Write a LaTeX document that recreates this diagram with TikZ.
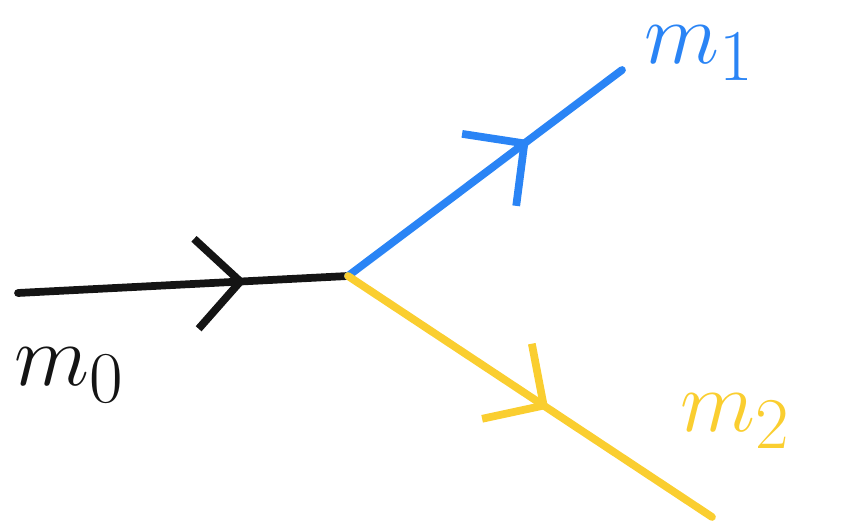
\documentclass[tikz,border=0pt]{standalone}
\usetikzlibrary{arrows.meta, decorations.markings}

\definecolor{inblack}{RGB}{20,20,20}
\definecolor{outblue}{RGB}{42,132,245}
\definecolor{outyellow}{RGB}{250,206,48}

\begin{document}
\begin{tikzpicture}[
  x=0.01cm, y=-0.01cm,
  leg/.style      = {line width=2.2pt, line cap=round, line join=round},
  mid arrow/.style = {postaction={decorate}, decoration={markings,
      mark=at position #1 with {\arrow{Straight Barb[length=4.4mm,width=9mm,line width=2.2pt]}}}},
  mass/.style     = {anchor=base west, inner sep=0pt, font=\fontsize{30}{36}\selectfont},
]
\useasboundingbox (0,0) rectangle (857,528);

% =============================================================
% Vertex and free ends of the three legs
% =============================================================
\coordinate (vertex)  at (348,276);
\coordinate (in end)  at (18,293);
\coordinate (out one) at (622,70);
\coordinate (out two) at (712,517);

% =============================================================
% Legs with arrows in the middle
% =============================================================
\draw[leg, inblack,   mid arrow=0.69] (in end) -- (vertex);
\draw[leg, outblue,   mid arrow=0.66] (vertex) -- (out one);
\draw[leg, outyellow, mid arrow=0.55] (vertex) -- (out two);

% =============================================================
% Mass labels
% =============================================================
\node[mass, text=inblack]   (m0) at (14,386)  {$m_0$};
\node[mass, text=outblue]   (m1) at (644,64)  {$m_1$};
\node[mass, text=outyellow] (m2) at (680,432) {$m_2$};

\end{tikzpicture}
\end{document}
